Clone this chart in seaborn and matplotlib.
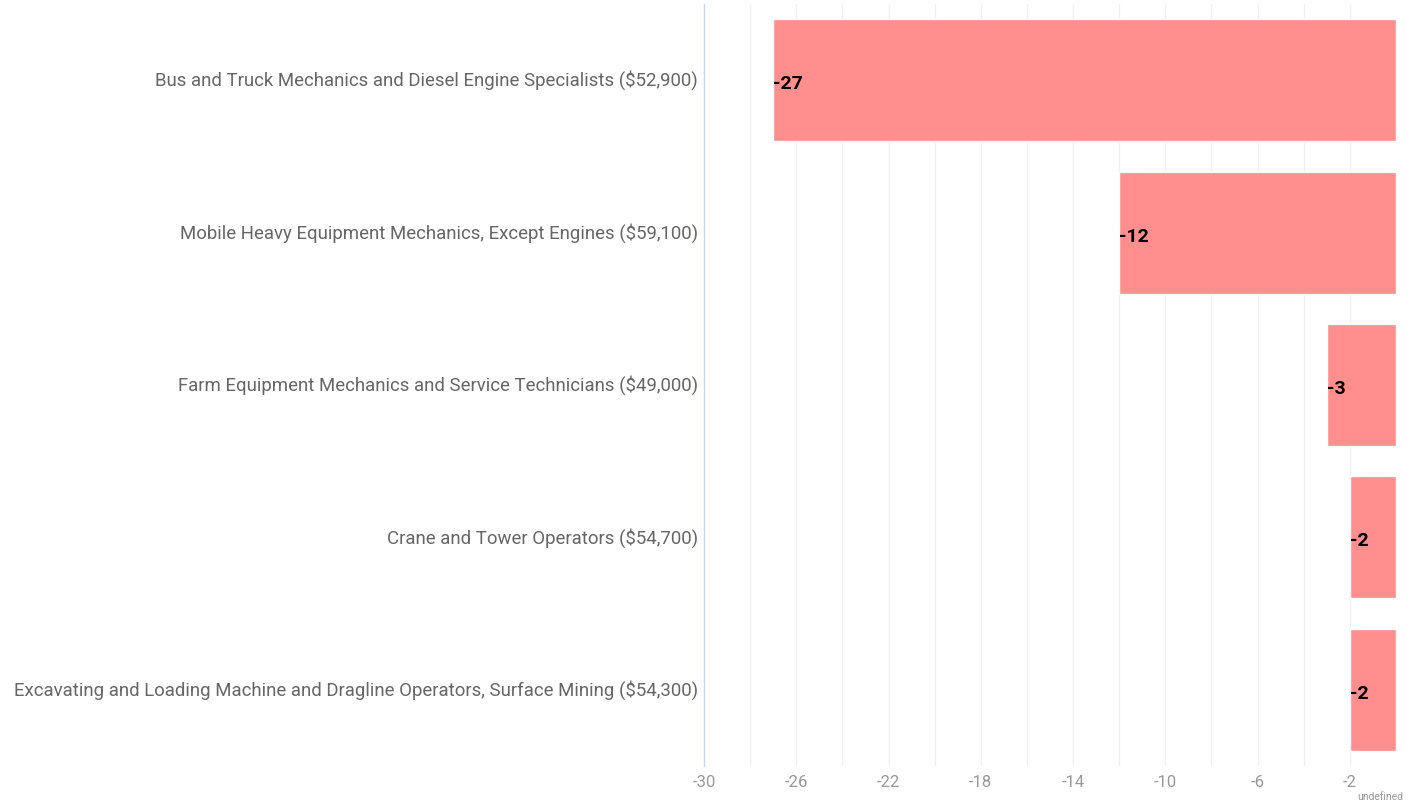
import matplotlib
matplotlib.use("Agg")
import matplotlib.pyplot as plt
import matplotlib.transforms as mtransforms
import seaborn as sns
import pandas as pd

# data
occupations = [
    "Bus and Truck Mechanics and Diesel Engine Specialists ($52,900)",
    "Mobile Heavy Equipment Mechanics, Except Engines ($59,100)",
    "Farm Equipment Mechanics and Service Technicians ($49,000)",
    "Crane and Tower Operators ($54,700)",
    "Excavating and Loading Machine and Dragline Operators, Surface Mining ($54,300)",
]
change = [-27, -12, -3, -2, -2]
tick_values = list(range(-30, 0, 4))

df = pd.DataFrame({"occupation": occupations, "change": change})

sns.set_style("white")
plt.rcParams["font.family"] = ["Roboto", "DejaVu Sans"]
plt.rcParams["axes.unicode_minus"] = False

fig = plt.figure(figsize=(14.19, 8.04), dpi=100)
ax = fig.add_axes([704 / 1419, 1 - 767 / 804, 692 / 1419, 762 / 804])

# light vertical grid every 2 units
for v in range(-28, 0, 2):
    ax.axvline(v, color="#f0f0f0", lw=1, zorder=0)

sns.barplot(data=df, x="change", y="occupation", color="#ff8f8f",
            saturation=1, width=0.8, orient="h", ax=ax, zorder=2)

for i, v in enumerate(change):
    ax.text(v, i + 0.02, str(v), ha="left", va="center", fontsize=14,
            fontweight="bold", color="black", zorder=3)

ax.set_xlim(-30, 0)
ax.set_ylim(4.5, -0.5)
ax.set_xticks(tick_values)
ax.set_xticklabels([str(t) for t in tick_values])
ax.tick_params(axis="x", length=0, pad=6, labelsize=12, labelcolor="#999999")
ax.tick_params(axis="y", length=0, pad=7, labelsize=13.4, labelcolor="#666666")
# nudge the category labels up a little and closer to the axis
shift = mtransforms.ScaledTranslation(2.5 / 72, 2 / 72, fig.dpi_scale_trans)
for lbl in ax.get_yticklabels():
    lbl.set_transform(lbl.get_transform() + shift)
ax.set_xlabel("")
ax.set_ylabel("")

for side in ["top", "right", "bottom"]:
    ax.spines[side].set_visible(False)
ax.spines["left"].set_color("#c6d6ee")
ax.spines["left"].set_linewidth(1)

fig.text(1403 / 1419, 1 - 797 / 804, "undefined", ha="right", va="center",
         fontsize=7.5, color="#999999")

fig.savefig("out.png", dpi=100)
